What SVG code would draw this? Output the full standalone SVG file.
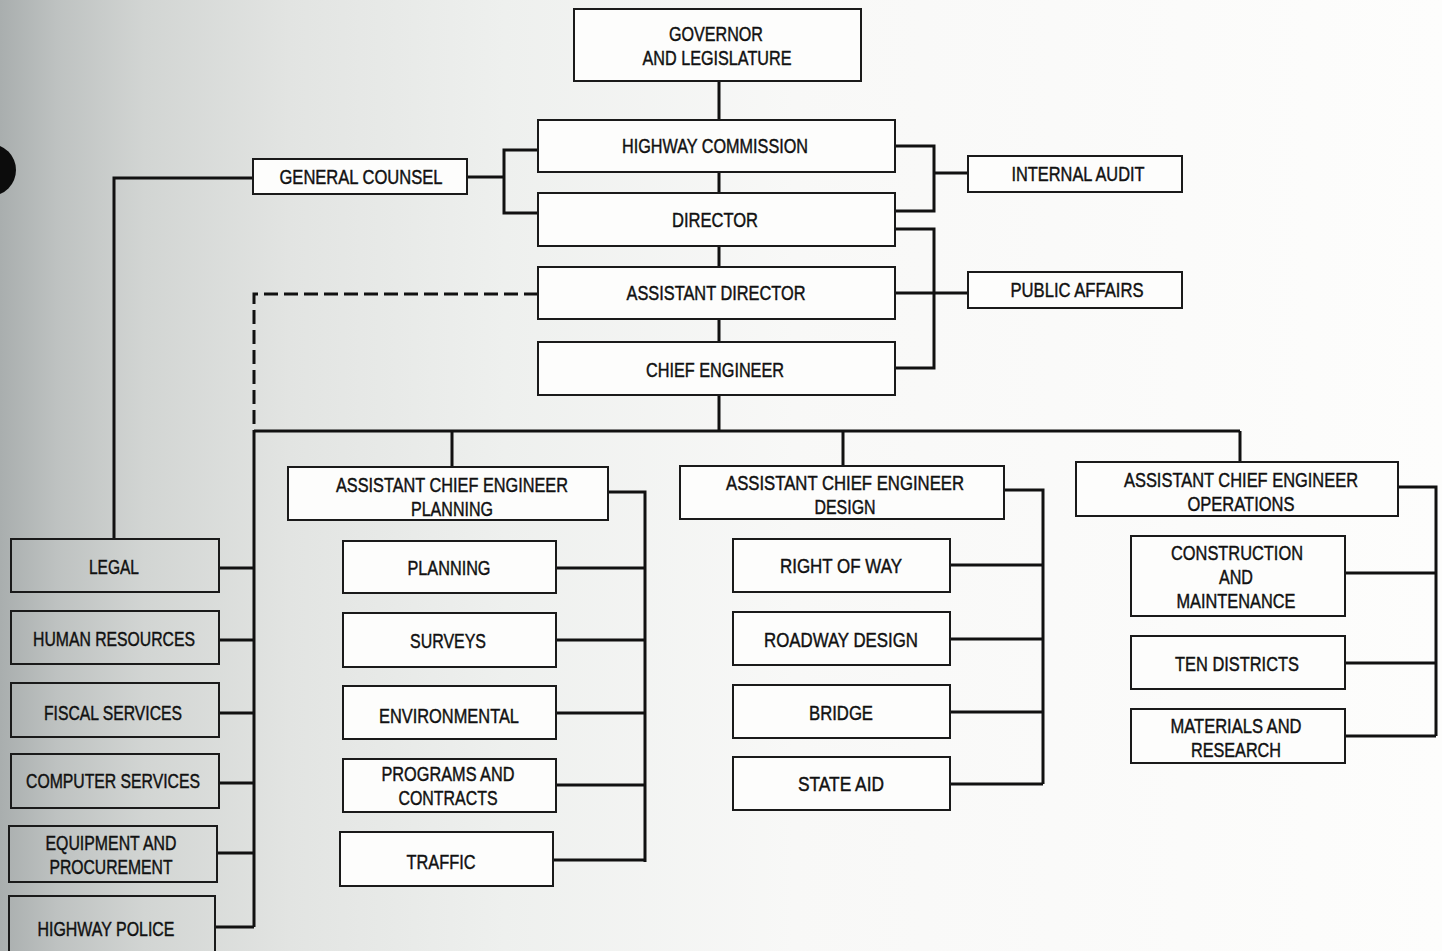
<svg xmlns="http://www.w3.org/2000/svg" width="1442" height="951" viewBox="0 0 1442 951">
<defs>
<linearGradient id="bg" x1="0" y1="0" x2="1" y2="0">
<stop offset="0" stop-color="#a9aeae"/>
<stop offset="0.04" stop-color="#bec2c1"/>
<stop offset="0.1" stop-color="#d2d5d3"/>
<stop offset="0.2" stop-color="#e2e4e2"/>
<stop offset="0.35" stop-color="#eef0ee"/>
<stop offset="0.55" stop-color="#f8f8f7"/>
<stop offset="1" stop-color="#fdfdfc"/>
</linearGradient>
<style>
.box{fill:#fdfdfc;stroke:#1a1a1a;stroke-width:2}
.gbox{fill:none;stroke:#1a1a1a;stroke-width:2}
.t{font-family:"Liberation Sans",Arial,sans-serif;font-size:21px;fill:#111;stroke:#111;stroke-width:0.45;text-anchor:middle}
.c{fill:none;stroke:#111;stroke-width:3}
.d{fill:none;stroke:#111;stroke-width:3;stroke-dasharray:14 6}
</style>
</defs>
<rect x="0" y="0" width="1442" height="951" fill="url(#bg)"/>
<circle cx="-10" cy="170" r="26" fill="#0c0c0c"/>

<g id="connectors">
<path class="c" d="M719 81V120M719 172V193M719 246V267M719 319V342M719 395V431"/>
<path class="c" d="M254 431H1240M452 431V467M843 431V466M1240 431V462"/>
<path class="c" d="M467 177H504M538 150H504V213H538"/>
<path class="c" d="M253 178H114V539"/>
<path class="c" d="M895 146H934V211H895M934 173H968"/>
<path class="c" d="M895 229H934V368H895M895 293H968"/>
<path class="d" d="M538 294H254V431"/>
<path class="c" d="M254 431V927M219 568H254M219 640H254M219 713H254M219 783H254M217 853H254M215 927H254"/>
<path class="c" d="M608 492H645V862M555 568H645M555 640H645M555 713H645M555 785H645M552 860H645"/>
<path class="c" d="M1004 490H1043V784M950 565H1043M950 639H1043M950 712H1043M950 784H1043"/>
<path class="c" d="M1398 487H1436V736M1345 573H1436M1345 663H1436M1345 736H1436"/>
</g>

<g id="governor"><rect class="box" x="574" y="9" width="287" height="72"/>
<text class="t" x="716" y="41" textLength="94" lengthAdjust="spacingAndGlyphs">GOVERNOR</text>
<text class="t" x="717" y="65" textLength="149" lengthAdjust="spacingAndGlyphs">AND  LEGISLATURE</text></g>

<g id="highway-commission"><rect class="box" x="538" y="120" width="357" height="52"/>
<text class="t" x="715" y="153" textLength="186" lengthAdjust="spacingAndGlyphs">HIGHWAY  COMMISSION</text></g>

<g id="director"><rect class="box" x="538" y="193" width="357" height="53"/>
<text class="t" x="715" y="227" textLength="86" lengthAdjust="spacingAndGlyphs">DIRECTOR</text></g>

<g id="assistant-director"><rect class="box" x="538" y="267" width="357" height="52"/>
<text class="t" x="716" y="300" textLength="179" lengthAdjust="spacingAndGlyphs">ASSISTANT  DIRECTOR</text></g>

<g id="chief-engineer"><rect class="box" x="538" y="342" width="357" height="53"/>
<text class="t" x="715" y="377" textLength="138" lengthAdjust="spacingAndGlyphs">CHIEF  ENGINEER</text></g>

<g id="general-counsel"><rect class="box" x="253" y="159" width="214" height="35"/>
<text class="t" x="361" y="184" textLength="163" lengthAdjust="spacingAndGlyphs">GENERAL  COUNSEL</text></g>

<g id="internal-audit"><rect class="box" x="968" y="156" width="214" height="36"/>
<text class="t" x="1078" y="181" textLength="133" lengthAdjust="spacingAndGlyphs">INTERNAL  AUDIT</text></g>

<g id="public-affairs"><rect class="box" x="968" y="272" width="214" height="36"/>
<text class="t" x="1077" y="297" textLength="133" lengthAdjust="spacingAndGlyphs">PUBLIC  AFFAIRS</text></g>

<g id="ace-planning"><rect class="box" x="288" y="467" width="320" height="53"/>
<text class="t" x="452" y="492" textLength="232" lengthAdjust="spacingAndGlyphs">ASSISTANT  CHIEF  ENGINEER</text>
<text class="t" x="452" y="516" textLength="82" lengthAdjust="spacingAndGlyphs">PLANNING</text></g>

<g id="ace-design"><rect class="box" x="680" y="466" width="324" height="53"/>
<text class="t" x="845" y="490" textLength="238" lengthAdjust="spacingAndGlyphs">ASSISTANT  CHIEF  ENGINEER</text>
<text class="t" x="845" y="514" textLength="61" lengthAdjust="spacingAndGlyphs">DESIGN</text></g>

<g id="ace-operations"><rect class="box" x="1076" y="462" width="322" height="54"/>
<text class="t" x="1241" y="487" textLength="234" lengthAdjust="spacingAndGlyphs">ASSISTANT  CHIEF  ENGINEER</text>
<text class="t" x="1241" y="511" textLength="107" lengthAdjust="spacingAndGlyphs">OPERATIONS</text></g>

<g id="planning"><rect class="box" x="343" y="541" width="213" height="52"/>
<text class="t" x="449" y="575" textLength="83" lengthAdjust="spacingAndGlyphs">PLANNING</text></g>
<g id="surveys"><rect class="box" x="343" y="613" width="213" height="54"/>
<text class="t" x="448" y="648" textLength="76" lengthAdjust="spacingAndGlyphs">SURVEYS</text></g>
<g id="environmental"><rect class="box" x="343" y="686" width="213" height="53"/>
<text class="t" x="449" y="723" textLength="140" lengthAdjust="spacingAndGlyphs">ENVIRONMENTAL</text></g>
<g id="programs-contracts"><rect class="box" x="343" y="759" width="213" height="53"/>
<text class="t" x="448" y="781" textLength="133" lengthAdjust="spacingAndGlyphs">PROGRAMS  AND</text>
<text class="t" x="448" y="805" textLength="99" lengthAdjust="spacingAndGlyphs">CONTRACTS</text></g>
<g id="traffic"><rect class="box" x="340" y="832" width="213" height="54"/>
<text class="t" x="441" y="869" textLength="69" lengthAdjust="spacingAndGlyphs">TRAFFIC</text></g>

<g id="right-of-way"><rect class="box" x="733" y="539" width="217" height="53"/>
<text class="t" x="841" y="573" textLength="122" lengthAdjust="spacingAndGlyphs">RIGHT  OF  WAY</text></g>
<g id="roadway-design"><rect class="box" x="733" y="612" width="217" height="53"/>
<text class="t" x="841" y="647" textLength="154" lengthAdjust="spacingAndGlyphs">ROADWAY  DESIGN</text></g>
<g id="bridge"><rect class="box" x="733" y="685" width="217" height="53"/>
<text class="t" x="841" y="720" textLength="64" lengthAdjust="spacingAndGlyphs">BRIDGE</text></g>
<g id="state-aid"><rect class="box" x="733" y="757" width="217" height="53"/>
<text class="t" x="841" y="791" textLength="86" lengthAdjust="spacingAndGlyphs">STATE  AID</text></g>

<g id="construction-maintenance"><rect class="box" x="1131" y="536" width="214" height="80"/>
<text class="t" x="1237" y="560" textLength="132" lengthAdjust="spacingAndGlyphs">CONSTRUCTION</text>
<text class="t" x="1236" y="584" textLength="34" lengthAdjust="spacingAndGlyphs">AND</text>
<text class="t" x="1236" y="608" textLength="119" lengthAdjust="spacingAndGlyphs">MAINTENANCE</text></g>
<g id="ten-districts"><rect class="box" x="1131" y="636" width="214" height="53"/>
<text class="t" x="1237" y="671" textLength="124" lengthAdjust="spacingAndGlyphs">TEN  DISTRICTS</text></g>
<g id="materials-research"><rect class="box" x="1131" y="709" width="214" height="54"/>
<text class="t" x="1236" y="733" textLength="131" lengthAdjust="spacingAndGlyphs">MATERIALS  AND</text>
<text class="t" x="1236" y="757" textLength="90" lengthAdjust="spacingAndGlyphs">RESEARCH</text></g>

<g id="legal"><rect class="gbox" x="11" y="539" width="208" height="53"/>
<text class="t" x="114" y="574" textLength="50" lengthAdjust="spacingAndGlyphs">LEGAL</text></g>
<g id="human-resources"><rect class="gbox" x="11" y="611" width="208" height="53"/>
<text class="t" x="114" y="646" textLength="162" lengthAdjust="spacingAndGlyphs">HUMAN  RESOURCES</text></g>
<g id="fiscal-services"><rect class="gbox" x="11" y="683" width="208" height="54"/>
<text class="t" x="113" y="720" textLength="138" lengthAdjust="spacingAndGlyphs">FISCAL  SERVICES</text></g>
<g id="computer-services"><rect class="gbox" x="11" y="754" width="208" height="54"/>
<text class="t" x="113" y="788" textLength="174" lengthAdjust="spacingAndGlyphs">COMPUTER  SERVICES</text></g>
<g id="equipment-procurement"><rect class="gbox" x="9" y="826" width="208" height="56"/>
<text class="t" x="111" y="850" textLength="131" lengthAdjust="spacingAndGlyphs">EQUIPMENT  AND</text>
<text class="t" x="111" y="874" textLength="123" lengthAdjust="spacingAndGlyphs">PROCUREMENT</text></g>
<g id="highway-police"><rect class="gbox" x="9" y="896" width="206" height="60"/>
<text class="t" x="106" y="936" textLength="137" lengthAdjust="spacingAndGlyphs">HIGHWAY  POLICE</text></g>
</svg>
